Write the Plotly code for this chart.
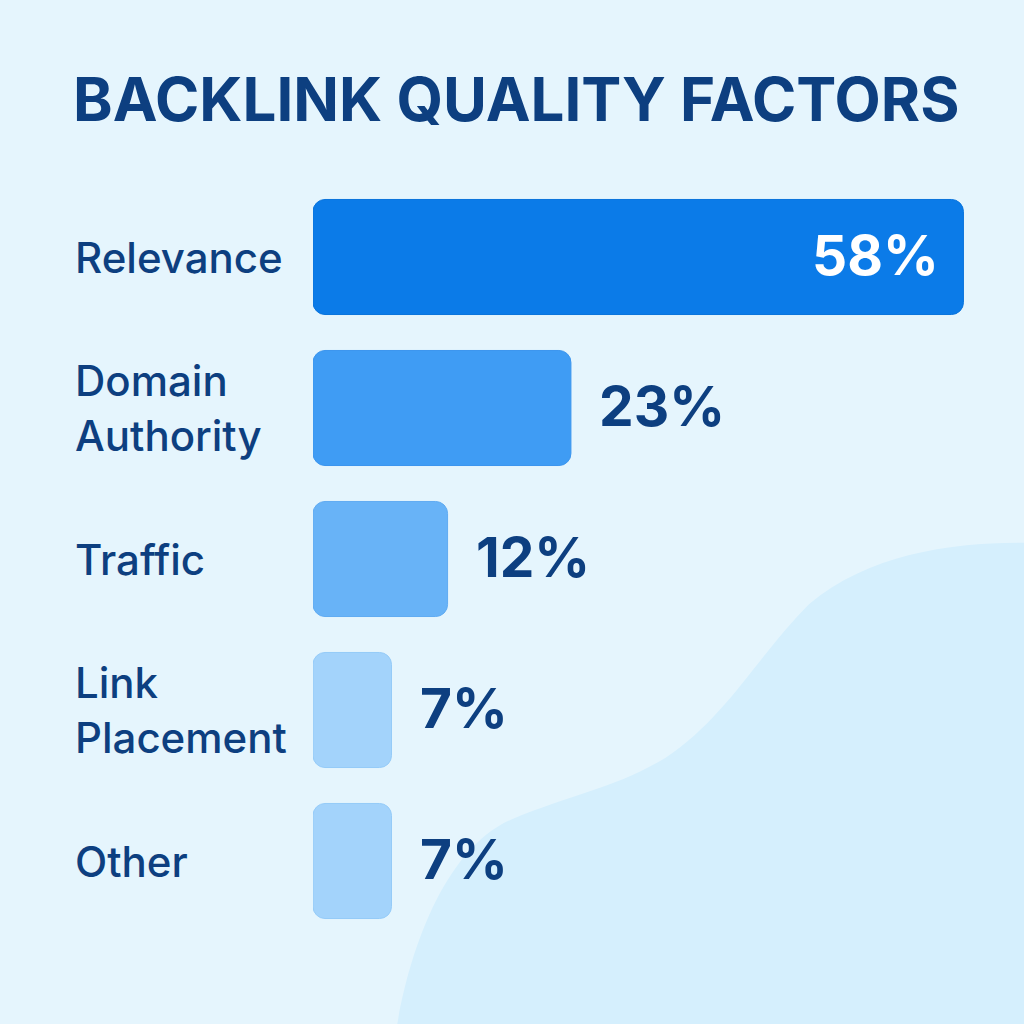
import plotly.graph_objects as go

categories = ["Relevance", "Domain Authority", "Traffic", "Link Placement", "Other"]
label_text = ["Relevance", "Domain<br>Authority", "Traffic", "Link<br>Placement", "Other"]
values = [58, 23, 12, 7, 7]
bar_colors = ["#0B7BE8", "#3F9CF4", "#68B3F7", "#A3D3FB", "#A3D3FB"]
edge_colors = ["#0A74DC", "#3B95EE", "#60ABF2", "#95CBF8", "#95CBF8"]

NAVY = "#0D3F80"
BG = "#E5F5FD"
W = 1024

fig = go.Figure()
# an explicit base makes plotly round both ends of the bar
fig.add_trace(go.Bar(
    x=values, base=[0] * len(values), y=categories, orientation="h",
    marker=dict(color=bar_colors, line=dict(color=edge_colors, width=1)),
    hoverinfo="skip",
))

# background blob in the lower right
fig.add_shape(
    type="path", xref="paper", yref="paper", layer="below",
    path=("M 0.388,0 C 0.398,0.06 0.43,0.17 0.50,0.20 "
          "C 0.56,0.225 0.60,0.23 0.65,0.26 "
          "C 0.71,0.30 0.74,0.36 0.79,0.41 "
          "C 0.85,0.46 0.93,0.47 1,0.47 L 1,0 Z"),
    fillcolor="#D5EFFD", line=dict(width=0),
)

# category labels, left aligned
for cat, lab in zip(categories, label_text):
    fig.add_annotation(
        x=73 / W, xref="paper", y=cat, yref="y", text=lab, showarrow=False,
        xanchor="left", yanchor="middle", align="left",
        font=dict(family="Inter", size=42, color=NAVY, weight=500),
    )

# value labels
for i, (cat, v) in enumerate(zip(categories, values)):
    inside = i == 0
    fig.add_annotation(
        x=v, y=cat, text=f"{v}%", showarrow=False,
        xanchor="right" if inside else "left", yanchor="middle",
        xshift=-22 if inside else 26, yshift=2,
        font=dict(family="Inter", size=55, color="white" if inside else NAVY, weight=700),
    )

fig.update_layout(
    width=1024, height=1024,
    margin=dict(l=0, r=0, t=0, b=0),
    paper_bgcolor=BG, plot_bgcolor="rgba(0,0,0,0)",
    showlegend=False,
    bargap=0.238, barcornerradius=12,
    title=dict(
        text="BACKLINK QUALITY FACTORS", x=73 / W, xanchor="left",
        y=1 - 100 / W, yanchor="middle",
        font=dict(family="Inter", size=60, color=NAVY, weight=700),
    ),
    xaxis=dict(domain=[313 / W, 1], range=[0, 63.4], visible=False, fixedrange=True),
    yaxis=dict(domain=[1 - 936.5 / W, 1 - 181.5 / W], autorange="reversed",
               visible=False, fixedrange=True),
)

fig.write_html(
    "out.html",
    config={"displayModeBar": False},
    post_script=f"document.body.style.margin='0';document.body.style.background='{BG}';",
)
